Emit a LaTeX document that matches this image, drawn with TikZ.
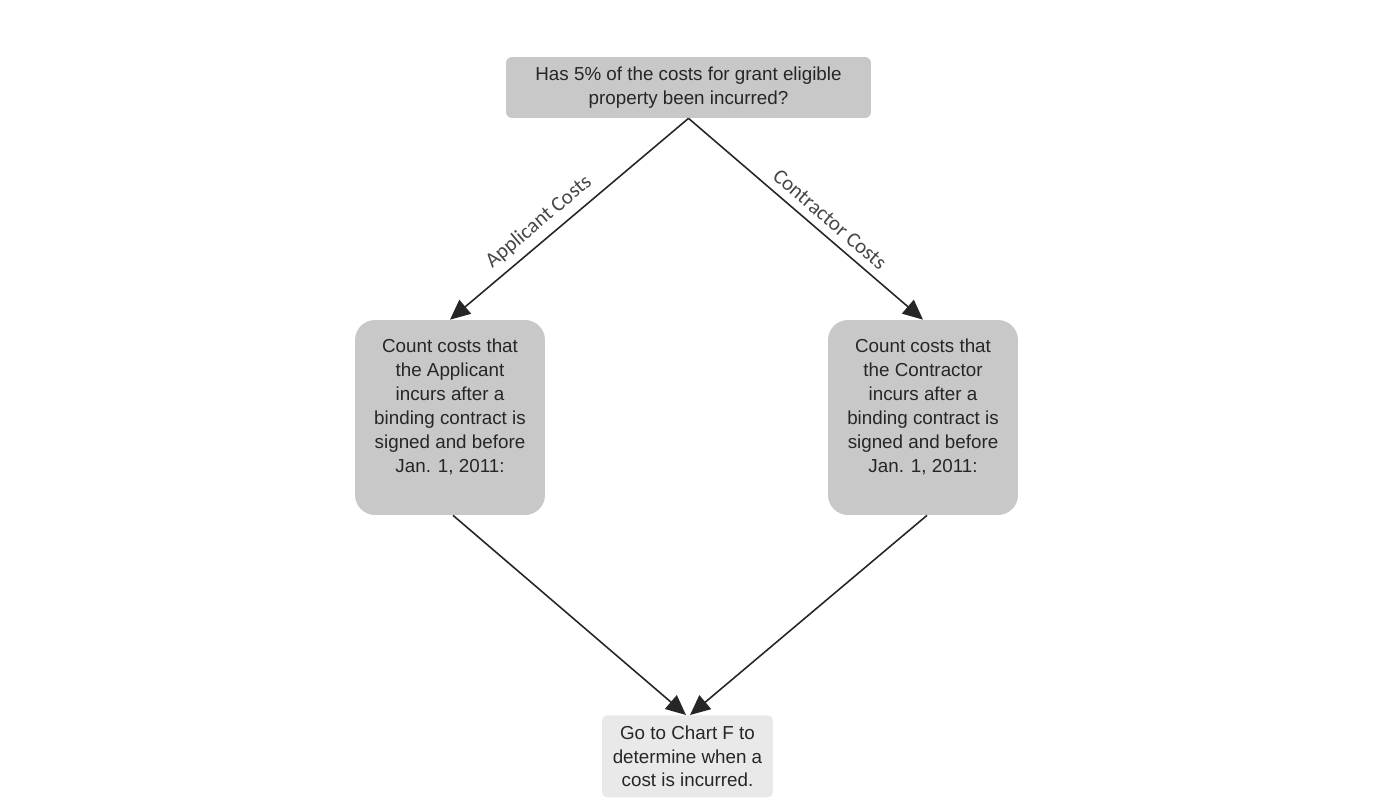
\documentclass[tikz,border=0pt]{standalone}
\usepackage{fontspec}
\setmainfont{Liberation Sans}
\newfontfamily\costfont{Carlito}
\usepackage{tikz}
\usetikzlibrary{arrows.meta}
\definecolor{boxgray}{RGB}{200,200,200}
\definecolor{palegray}{RGB}{233,233,233}
\definecolor{inkgray}{RGB}{38,38,38}

\begin{document}
\begin{tikzpicture}[x=0.02cm,y=-0.02cm,
  every node/.style={font=\fontsize{10.7}{13.6}\selectfont,text=inkgray},
  box/.style={fill=boxgray,align=center,inner sep=2pt},
  link/.style={-{Triangle[length=0.4cm,width=0.36cm]},line width=0.9pt,draw=inkgray},
  cost/.style={midway,above=1pt,sloped,font=\fontsize{12}{14}\costfont,text=inkgray!85}]
\useasboundingbox (0,0) rectangle (1375,807);
\node[box,rounded corners=0.12cm,minimum width=7.3cm,minimum height=1.22cm] (Q) at (688.5,87.5) {Has 5\% of the costs for grant eligible\\property been incurred?};
\node[box,rounded corners=0.4cm,minimum width=3.8cm,minimum height=3.9cm] (A) at (450,417.5) {Count costs that\\the Applicant\\incurs after a\\binding contract is\\signed and before\\Jan. 1, 2011:\\\mbox{}};
\node[box,rounded corners=0.4cm,minimum width=3.8cm,minimum height=3.9cm] (C) at (923,417.5) {Count costs that\\the Contractor\\incurs after a\\binding contract is\\signed and before\\Jan. 1, 2011:\\\mbox{}};
\node[box,fill=palegray,rounded corners=0.1cm,minimum width=3.42cm,minimum height=1.64cm,anchor=north] (G) at (687.5,715) {Go to Chart F to\\determine when a\\cost is incurred.};
\draw[link] (Q.south) -- (A.north) node[cost,pos=0.58] {Applicant Costs};
\draw[link] (Q.south) -- (C.north) node[cost,pos=0.56] {Contractor Costs};
\draw[link] ([xshift=0.06cm]A.south) -- ([xshift=-0.03cm]G.north);
\draw[link] ([xshift=0.08cm]C.south) -- ([xshift=0.05cm]G.north);
\end{tikzpicture}
\end{document}
